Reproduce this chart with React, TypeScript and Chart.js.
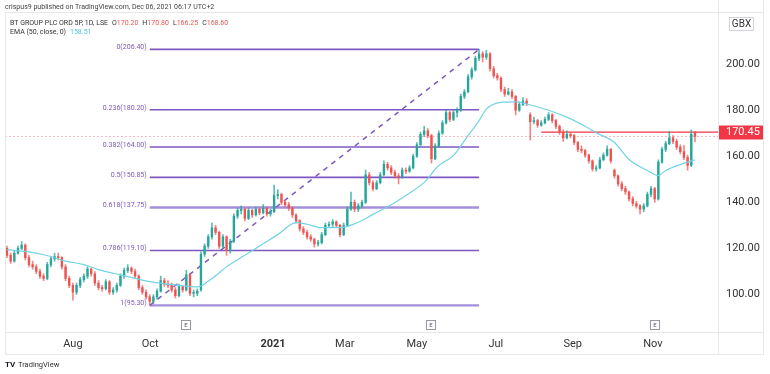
import React, { useEffect, useRef } from 'react';
import { Chart, registerables } from 'chart.js';

Chart.register(...registerables);

// ---- Candles (one candle per two trading sessions, Jun 2020 – Dec 2021) ----
const opens = [
  120, 117, 114.5, 118, 120, 121.5, 116, 113, 112, 110, 108, 107, 113, 115.5, 116.5, 116, 112, 107, 104, 101,
  104, 106.5, 108, 111, 109, 105, 103, 102.5, 105.5, 101, 102, 104, 108, 110.5, 111.5, 110, 108, 103, 101, 99,
  97, 99, 101.5, 106, 104.5, 104, 102, 99.5, 103.5, 102, 108.5, 100.5, 100.5, 102, 117.5, 121, 125, 129, 127, 121,
  125, 119, 123, 134, 136.5, 137, 133, 136.5, 134.5, 137, 135.5, 137.5, 135, 136, 143, 143.5, 140, 139, 137.5, 134.5,
  132, 128.5, 127, 125, 124, 122, 122.5, 126, 130, 130.5, 131.5, 130, 126, 130, 137, 140, 137, 138.5, 140, 152,
  148.5, 146, 148.5, 152, 156.5, 155, 153, 151.5, 151, 154, 153.5, 155, 160, 165, 169.5, 171, 169, 159, 164.5, 170,
  174.5, 179, 176, 179, 180, 186, 188, 194.5, 197.5, 202.5, 204.5, 203, 204.5, 198, 195, 194, 189, 187, 188, 186,
  180, 182.5, 184, 178, 175, 175.5, 173.5, 174.5, 176, 178, 175.5, 173, 170.5, 168, 169.5, 169, 166, 163, 162.5, 160.5,
  158, 154.5, 155, 158.5, 160.5, 163, 154, 151.5, 148, 146, 144.5, 141.5, 139.5, 138.5, 137, 138.5, 143.5, 146, 141.5, 157.5,
  163, 165.5, 168, 166.5, 164, 162, 159.5, 156, 170.2,
];
const highs = [
  121, 118, 119, 121, 123, 122, 117, 114.5, 113, 111, 109, 114, 116.5, 118, 118, 116.5, 113, 108, 105, 105,
  107.5, 109, 112, 111.5, 110, 106, 104, 106.5, 106, 103, 105, 109, 111.5, 113, 112, 111, 108.5, 104, 102, 100,
  100, 102.5, 108, 107, 106, 105, 103, 104.5, 104, 110.5, 109, 102, 102.5, 118.5, 122, 126, 131, 130, 127.5, 126,
  125.5, 124, 135, 137.5, 138.5, 137.5, 137.5, 137, 138, 137.5, 139, 138, 137, 147.5, 145.5, 144, 141, 140, 138, 135,
  132.5, 129.5, 128, 126, 124.5, 123.5, 127, 131, 131.5, 132.5, 132, 130.5, 131, 138, 144.5, 141, 139.5, 141, 154, 153,
  149.5, 149.5, 153, 158, 157.5, 156, 154, 152.5, 155, 155, 156, 161, 166, 170.5, 173, 172, 169.5, 165.5, 171, 175.5,
  180, 179.5, 180, 181, 187, 189, 195.5, 198.5, 203.5, 206.4, 205.5, 206, 205, 199, 196, 194.5, 190, 189.5, 189, 186.5,
  183.5, 185.5, 185, 179, 177, 176, 175.5, 177, 179, 178.5, 176, 173.5, 171.5, 171, 170.5, 169.5, 166.5, 164.5, 163, 161,
  158.5, 156, 159.5, 161.5, 164.5, 163.5, 154.5, 152, 149, 147, 145, 142.5, 140.5, 139, 139.5, 144.5, 147, 146.5, 158.5, 164,
  166.5, 170.7, 169, 167.5, 165, 164.7, 160.5, 171.5, 170.8,
];
const lows = [
  116, 113.5, 114, 117.5, 119.5, 115, 112, 111, 109, 107, 106, 106.5, 112, 114.5, 115, 111, 106, 103, 97.5, 100,
  103, 105.5, 107, 108, 104, 102, 101.5, 102, 100, 100, 101, 103.5, 107, 109.5, 109, 107, 102, 100, 98, 95.3,
  96, 98, 101, 103.5, 103, 101, 98.5, 99, 101, 101.5, 99.5, 99, 99.5, 101.5, 116.5, 120, 124, 126, 120, 120,
  117, 118, 122.5, 133, 135, 132, 132.5, 133.5, 134, 134.5, 135, 134, 134, 135.5, 141.5, 139, 138, 136.5, 133.5, 131,
  127.5, 126, 124, 123, 120.5, 121, 122, 125.5, 129, 129.5, 129, 125, 125.5, 129.5, 136.5, 136, 136, 137.5, 139.5, 147.5,
  145, 145.5, 148, 151.5, 154, 152, 150.5, 148, 150.5, 152.5, 153, 154.5, 159.5, 164.5, 168.5, 168, 157, 158.5, 164, 169.5,
  174, 175, 175.5, 177, 179.5, 185, 187.5, 193.5, 197, 201.5, 201, 202, 197, 194, 193, 188, 186, 186.5, 185, 178,
  179.5, 182, 182, 167, 174, 172.5, 173, 174, 175.5, 174.5, 172, 169.5, 166.5, 167.5, 168, 165, 162, 161.5, 159.5, 157,
  153.5, 153.5, 154.5, 158, 160, 157, 150.5, 147, 145, 143.5, 140.5, 138.5, 137.5, 135, 136, 138, 142.5, 140, 141, 157,
  162, 165, 165.5, 163, 161, 158.5, 154, 155.5, 166.25,
];
const closes = [
  117, 114.5, 118, 120, 121.5, 116, 113, 112, 110, 108, 107, 113, 115.5, 116.5, 116, 112, 107, 104, 101, 104,
  106.5, 108, 111, 109, 105, 103, 102.5, 105.5, 101, 102, 104, 108, 110.5, 111.5, 110, 108, 103, 101, 99, 97,
  99, 101.5, 106, 104.5, 104, 102, 99.5, 103.5, 102, 108.5, 100.5, 100.5, 101.5, 117.5, 121, 125, 129, 127, 121, 125,
  119, 123, 134, 136.5, 137, 133, 136.5, 134.5, 137, 135.5, 137.5, 135, 136, 143, 143.5, 140, 139, 137.5, 134.5, 132,
  128.5, 127, 125, 124, 122, 122.5, 126, 130, 130.5, 131.5, 130, 126, 130, 137, 140, 137, 138.5, 140, 152, 148.5,
  146, 148.5, 152, 156.5, 155, 153, 151.5, 151, 154, 153.5, 155, 160, 165, 169.5, 171, 169, 159, 164.5, 170, 174.5,
  179, 176, 179, 180, 186, 188, 194.5, 197.5, 202.5, 204.5, 203, 204.5, 198, 195, 194, 189, 187, 188, 186, 180,
  182.5, 184, 183, 175, 175.5, 173.5, 174.5, 176, 178, 175.5, 173, 170.5, 168, 169.5, 169, 166, 163, 162.5, 160.5, 158,
  154.5, 155, 158.5, 160.5, 163, 158, 151.5, 148, 146, 144.5, 141.5, 139.5, 138.5, 137, 138.5, 143.5, 146, 141.5, 157.5, 163,
  165.5, 168, 166.5, 164, 162, 159.5, 156, 169.5, 168.6,
];

// ---- EMA(50, close) ----
const emaIdx = [0, 6, 12, 16, 21, 25, 31, 39, 47, 52, 56, 60, 65, 70, 74, 79, 82, 86, 91, 96, 100, 105, 109, 114, 118, 122, 126, 129, 131, 135, 139, 142, 148, 153, 158, 161, 166, 170, 175, 178, 180, 184, 188];
const emaVal = [119.5, 118.5, 116.5, 114.5, 113, 110.8, 108.5, 105.6, 104, 103.3, 107, 112, 117, 122, 126, 131.2, 130.5, 129, 129, 131.4, 134.8, 139, 143, 148.7, 156, 160.3, 169, 175.5, 180.5, 183.4, 183.6, 182.7, 180, 177, 173, 170.2, 166, 158.6, 153.8, 151.6, 153.8, 156.4, 158.5];

// ---- Fibonacci retracement ----
const fibRatios = [0, 0.236, 0.382, 0.5, 0.618, 0.786, 1];
const fibLevels = [206.4, 180.2, 164.0, 150.85, 137.75, 119.1, 95.3];
const fibLowIdx = 39;
const fibHighIdx = 129;

// ---- Axes ----
const monthTickIdx = [18, 39.1, 72.7, 92.3, 112, 133.6, 154.6, 176.5];
const monthLabels = ['Aug', 'Oct', '2021', 'Mar', 'May', 'Jul', 'Sep', 'Nov'];
const priceTicks = [100, 120, 140, 160, 180, 200];
const xMin = -0.55;
const xMax = 194.3;
const yMin = 83.3;
const yMax = 221.5;

// ---- Annotations ----
const earningsIdx = [49, 116, 177];
const resistanceLevel = 170.45;
const resistanceStartIdx = 146;
const lastClose = 168.6;
const headerText = 'crispus9 published on TradingView.com, Dec 06, 2021 06:17 UTC+2';
const symbolText = 'BT GROUP PLC ORD 5P, 1D, LSE';
const ohlcLabels = ['O', 'H', 'L', 'C'];
const ohlcValues = ['170.20', '170.80', '166.25', '168.60'];
const emaLabel = 'EMA (50, close, 0)';
const emaLast = '158.51';

const UP = '#26a69a';
const DOWN = '#ef5350';
const FIB = '#7e57c2';
const FONT = 'Roboto, "Liberation Sans", sans-serif';

export default function App() {
  const canvasRef = useRef<HTMLCanvasElement | null>(null);

  useEffect(() => {
    const canvas = canvasRef.current;
    if (!canvas) return;
    const idx = closes.map((_, i) => i);
    const colors = idx.map((i) => (closes[i] >= opens[i] ? UP : DOWN));
    const wickColors = idx.map((i) => (closes[i] >= opens[i] ? 'rgba(38,166,154,0.75)' : 'rgba(239,83,80,0.7)'));

    const fibDatasets = fibLevels.map((lv, k) => ({
      type: 'line' as const,
      data: [
        { x: fibLowIdx, y: lv },
        { x: fibHighIdx, y: lv },
      ],
      borderColor: k === 4 || k === 6 ? '#a38fdc' : FIB,
      borderWidth: k === 4 || k === 6 ? 2.4 : 1.6,
      pointRadius: 0,
      order: 5,
    }));

    const overlay = {
      id: 'overlay',
      afterDatasetsDraw(chart: any) {
        const { ctx, scales } = chart;
        const x = scales.x;
        const y = scales.y;
        ctx.save();
        ctx.font = `7px ${FONT}`;
        ctx.textAlign = 'right';
        ctx.textBaseline = 'middle';
        ctx.fillStyle = FIB;
        fibRatios.forEach((r, k) => {
          const px = x.getPixelForValue(fibLowIdx) - 3;
          const py = y.getPixelForValue(fibLevels[k]) - 2;
          ctx.fillText(`${r}(${fibLevels[k].toFixed(2)})`, px, py);
        });
        ctx.restore();
      },
      afterDraw(chart: any) {
        const { ctx, scales } = chart;
        const x = scales.x;
        const y = scales.y;
        ctx.save();
        // frame lines
        ctx.strokeStyle = '#e6e8ee';
        ctx.lineWidth = 1;
        ctx.beginPath();
        ctx.moveTo(5, 12.5); ctx.lineTo(764, 12.5);
        ctx.moveTo(5, 332.5); ctx.lineTo(764, 332.5);
        ctx.moveTo(5, 354.5); ctx.lineTo(764, 354.5);
        ctx.moveTo(5.5, 12); ctx.lineTo(5.5, 355);
        ctx.moveTo(718.5, 0); ctx.lineTo(718.5, 355);
        ctx.moveTo(763.5, 0); ctx.lineTo(763.5, 355);
        ctx.stroke();

        // earnings markers
        earningsIdx.forEach((e) => {
          const cx = Math.round(x.getPixelForValue(e));
          ctx.fillStyle = '#fff';
          ctx.strokeStyle = '#9598a1';
          ctx.fillRect(cx - 4.5, 320.5, 9, 9);
          ctx.strokeRect(cx - 4.5, 320.5, 9, 9);
          ctx.fillStyle = '#555';
          ctx.font = `6px ${FONT}`;
          ctx.textAlign = 'center';
          ctx.textBaseline = 'middle';
          ctx.fillText('E', cx, 325.5);
        });

        // GBX box
        ctx.fillStyle = '#fff';
        ctx.fillRect(729, 17, 25, 14);
        ctx.strokeStyle = '#d1d4dc';
        ctx.strokeRect(729.5, 17.5, 24, 13);
        ctx.fillStyle = '#333';
        ctx.font = `10px ${FONT}`;
        ctx.textAlign = 'center';
        ctx.textBaseline = 'middle';
        ctx.fillText('GBX', 741.5, 24.5);

        // resistance price label
        const ry = y.getPixelForValue(resistanceLevel);
        ctx.fillStyle = '#f23645';
        ctx.fillRect(719, Math.round(ry) - 6.5, 44, 14);
        ctx.fillStyle = '#fff';
        ctx.font = `11px ${FONT}`;
        ctx.textAlign = 'left';
        ctx.fillText(resistanceLevel.toFixed(2), 726, Math.round(ry) + 0.5);

        // header
        ctx.textAlign = 'left';
        ctx.fillStyle = '#444';
        ctx.font = `7px ${FONT}`;
        ctx.fillText(headerText, 5, 7);

        // legend row 1
        ctx.font = `7px ${FONT}`;
        let lx = 10;
        ctx.fillStyle = '#333';
        ctx.fillText(symbolText, lx, 23);
        lx += ctx.measureText(symbolText).width + 4;
        ohlcLabels.forEach((lab, k) => {
          ctx.fillStyle = '#333';
          ctx.fillText(lab, lx, 23);
          lx += ctx.measureText(lab).width;
          ctx.fillStyle = DOWN;
          ctx.fillText(ohlcValues[k], lx, 23);
          lx += ctx.measureText(ohlcValues[k]).width + 4;
        });
        // legend row 2
        ctx.fillStyle = '#333';
        ctx.fillText(emaLabel, 10, 32);
        const ew = ctx.measureText(emaLabel).width;
        ctx.fillStyle = '#4fc3d9';
        ctx.fillText(emaLast, 10 + ew + 4, 32);

        // logo
        ctx.fillStyle = '#131722';
        ctx.font = `bold 8px ${FONT}`;
        ctx.fillText('TV', 5, 365);
        ctx.fillStyle = '#333';
        ctx.font = `7.5px ${FONT}`;
        ctx.fillText('TradingView', 18, 365);
        ctx.restore();
      },
    };

    const chart = new Chart(canvas, {
      type: 'bar',
      data: {
        datasets: [
          {
            type: 'line',
            data: emaIdx.map((v, k) => ({ x: v, y: emaVal[k] })),
            borderColor: '#72d3e4',
            borderWidth: 1.2,
            pointRadius: 0,
            cubicInterpolationMode: 'monotone',
            order: 0,
          },
          {
            type: 'bar',
            data: idx.map((i) => ({ x: i, y: [opens[i], closes[i]] })),
            backgroundColor: colors,
            borderWidth: 0,
            barThickness: 1.7,
            minBarLength: 1,
            grouped: false,
            order: 1,
          },
          {
            type: 'bar',
            data: idx.map((i) => ({ x: i, y: [lows[i], highs[i]] })),
            backgroundColor: wickColors,
            borderWidth: 0,
            barThickness: 1,
            grouped: false,
            order: 2,
          },
          {
            type: 'line',
            data: [
              { x: fibLowIdx, y: fibLevels[6] },
              { x: fibHighIdx, y: fibLevels[0] },
            ],
            borderColor: FIB,
            borderWidth: 1.5,
            borderDash: [5, 5],
            pointRadius: 0,
            order: 4,
          },
          {
            type: 'line',
            data: [
              { x: resistanceStartIdx, y: resistanceLevel },
              { x: xMax, y: resistanceLevel },
            ],
            borderColor: '#f23645',
            borderWidth: 1.3,
            pointRadius: 0,
            order: 3,
          },
          {
            type: 'line',
            data: [
              { x: xMin, y: lastClose },
              { x: xMax, y: lastClose },
            ],
            borderColor: 'rgba(242,54,69,0.35)',
            borderWidth: 1,
            borderDash: [2, 2],
            pointRadius: 0,
            order: 6,
          },
          ...fibDatasets,
        ] as any,
      },
      options: {
        animation: false,
        responsive: false,
        maintainAspectRatio: false,
        events: [],
        layout: { padding: { left: 5, top: 12, right: 0, bottom: 0 } },
        plugins: { legend: { display: false }, tooltip: { enabled: false } },
        scales: {
          x: {
            type: 'linear',
            min: xMin,
            max: xMax,
            offset: false,
            grid: { display: false, drawTicks: false },
            border: { display: false },
            afterBuildTicks: (s: any) => {
              s.ticks = monthTickIdx.map((v) => ({ value: v }));
            },
            afterFit: (s: any) => {
              s.height = 41;
            },
            ticks: {
              autoSkip: false,
              maxRotation: 0,
              padding: 5,
              color: '#333',
              font: (c: any) => ({
                family: FONT,
                size: 11,
                weight: monthLabels[c.index] === '2021' ? 'bold' : 'normal',
              }),
              callback: (_v: any, i: number) => monthLabels[i] ?? '',
            },
          },
          y: {
            type: 'linear',
            position: 'right',
            min: yMin,
            max: yMax,
            grid: { display: false, drawTicks: false },
            border: { display: false },
            afterBuildTicks: (s: any) => {
              s.ticks = priceTicks.map((v) => ({ value: v }));
            },
            afterFit: (s: any) => {
              s.width = 52;
            },
            ticks: {
              padding: 8,
              color: '#333',
              font: { family: FONT, size: 11 },
              callback: (v: any) => Number(v).toFixed(2),
            },
          },
        },
      } as any,
      plugins: [overlay],
    });
    return () => chart.destroy();
  }, []);

  return (
    <div style={{ position: 'fixed', left: 0, top: 0, width: 770, height: 374, background: '#fff' }}>
      <canvas ref={canvasRef} width={770} height={374} />
    </div>
  );
}
